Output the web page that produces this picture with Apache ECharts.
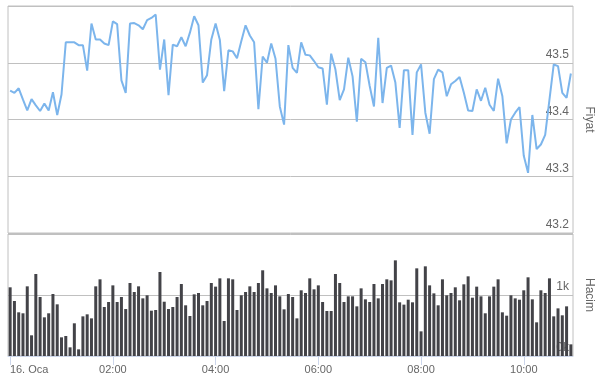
<!DOCTYPE html>
<html>
<head>
<meta charset="utf-8">
<script src="https://cdn.jsdelivr.net/npm/echarts@6/dist/echarts.min.js"></script>
<style>
html,body{margin:0;padding:0;background:#fff;}
#c{width:595px;height:379px;}
</style>
</head>
<body>
<div id="c"></div>
<script>
var times = [
'00:00','00:05','00:10','00:15','00:20','00:25','00:30','00:35','00:40','00:45','00:50','00:55',
'01:00','01:05','01:10','01:15','01:20','01:25','01:30','01:35','01:40','01:45','01:50','01:55',
'02:00','02:05','02:10','02:15','02:20','02:25','02:30','02:35','02:40','02:45','02:50','02:55',
'03:00','03:05','03:10','03:15','03:20','03:25','03:30','03:35','03:40','03:45','03:50','03:55',
'04:00','04:05','04:10','04:15','04:20','04:25','04:30','04:35','04:40','04:45','04:50','04:55',
'05:00','05:05','05:10','05:15','05:20','05:25','05:30','05:35','05:40','05:45','05:50','05:55',
'06:00','06:05','06:10','06:15','06:20','06:25','06:30','06:35','06:40','06:45','06:50','06:55',
'07:00','07:05','07:10','07:15','07:20','07:25','07:30','07:35','07:40','07:45','07:50','07:55',
'08:00','08:05','08:10','08:15','08:20','08:25','08:30','08:35','08:40','08:45','08:50','08:55',
'09:00','09:05','09:10','09:15','09:20','09:25','09:30','09:35','09:40','09:45','09:50','09:55',
'10:00','10:05','10:10','10:15','10:20','10:25','10:30','10:35','10:40','10:45','10:50','10:55'
];
var firstLabel = '16. Oca';

var price = [
43.451,43.447,43.455,43.435,43.416,43.436,43.425,43.415,43.428,43.416,43.448,43.408,
43.444,43.536,43.536,43.536,43.531,43.531,43.486,43.569,43.541,43.541,43.534,43.531,
43.573,43.568,43.469,43.447,43.569,43.570,43.566,43.559,43.575,43.579,43.585,43.488,
43.541,43.443,43.532,43.529,43.545,43.529,43.553,43.582,43.566,43.465,43.478,43.541,
43.569,43.540,43.450,43.522,43.520,43.508,43.538,43.566,43.548,43.536,43.418,43.511,
43.500,43.534,43.507,43.423,43.391,43.531,43.491,43.482,43.536,43.514,43.513,43.503,
43.492,43.490,43.426,43.516,43.488,43.434,43.453,43.509,43.476,43.396,43.507,43.501,
43.459,43.423,43.544,43.429,43.491,43.495,43.465,43.385,43.487,43.487,43.373,43.483,
43.497,43.412,43.375,43.471,43.488,43.483,43.441,43.462,43.468,43.475,43.447,43.416,
43.415,43.453,43.433,43.456,43.426,43.415,43.472,43.441,43.358,43.400,43.412,43.422,
43.336,43.306,43.408,43.348,43.356,43.373,43.435,43.497,43.494,43.447,43.438,43.481
];

var volume = [
1126,902,716,700,1142,339,1344,967,634,700,1016,847,
306,328,142,536,109,650,683,617,1142,1257,803,885,
1158,885,967,770,1197,1049,1142,945,995,743,754,1377,
890,770,803,967,1180,831,656,1011,1033,831,902,1197,
1137,1273,574,1273,1257,754,995,1049,1142,1049,1197,1405,
1109,1033,1158,978,765,1016,967,617,1077,1033,1273,1093,
1158,885,738,738,1344,1197,885,978,978,814,1109,929,
885,1180,945,1180,1257,1240,1568,880,842,923,880,1437,
404,1470,1158,1027,831,1257,995,1033,1126,913,1175,1306,
956,1137,978,700,978,1137,1257,716,661,995,945,923,
1077,1290,929,552,1077,1033,1273,650,781,667,814,191
];

var priceTicks = [43.2, 43.3, 43.4, 43.5, 43.6];
var volumeTicks = [0, 1000, 2000];

var font = 'Liberation Sans, Arial, sans-serif';
var chart = echarts.init(document.getElementById('c'), null, {renderer: 'canvas'});
var showEvery = function (idx) { return idx % 24 === 0; };

chart.setOption({
  animation: false,
  backgroundColor: '#ffffff',
  grid: [
    {left: 8, right: 22, top: 6, height: 227, show: true, borderColor: '#c0c0c0', borderWidth: 1, backgroundColor: 'transparent', outerBoundsMode: 'none', containLabel: false},
    {left: 8, right: 22, top: 234, height: 122, show: true, borderColor: '#c0c0c0', borderWidth: 1, backgroundColor: 'transparent', outerBoundsMode: 'none', containLabel: false}
  ],
  xAxis: [
    {type: 'category', gridIndex: 0, data: times, boundaryGap: true,
     axisLine: {show: false}, axisTick: {show: false}, axisLabel: {show: false}, splitLine: {show: false}},
    {type: 'category', gridIndex: 1, data: times, boundaryGap: true,
     axisLine: {show: true, lineStyle: {color: '#ccd6eb', width: 1}},
     axisTick: {show: true, alignWithLabel: true, interval: showEvery, length: 9, lineStyle: {color: '#ccd6eb'}},
     axisLabel: {show: true, interval: showEvery, margin: 8, color: '#666666', fontSize: 11, fontFamily: font,
       formatter: function (v, idx) { return idx === 0 ? '{first|' + firstLabel + '}' : v; },
       rich: {first: {padding: [0, 0, 0, 38], color: '#666666', fontSize: 11, fontFamily: font}}},
     splitLine: {show: false}}
  ],
  yAxis: [
    {type: 'value', gridIndex: 0, position: 'right', min: priceTicks[0], max: priceTicks[priceTicks.length - 1], interval: 0.1,
     name: 'Fiyat', nameLocation: 'middle', nameGap: 10, nameRotate: -90,
     nameTextStyle: {color: '#666666', fontSize: 12, fontFamily: font},
     axisLine: {show: false}, axisTick: {show: false},
     axisLabel: {inside: true, margin: 4, color: '#666666', fontSize: 12, fontFamily: font,
       verticalAlign: 'bottom', padding: [0, 0, 2, 0], showMaxLabel: false,
       formatter: function (v) { return v.toFixed(1); }},
     splitLine: {show: true, lineStyle: {color: '#c0c0c0', width: 1}}},
    {type: 'value', gridIndex: 1, position: 'right', min: volumeTicks[0], max: volumeTicks[volumeTicks.length - 1], interval: 1000,
     name: 'Hacim', nameLocation: 'middle', nameGap: 10, nameRotate: -90,
     nameTextStyle: {color: '#666666', fontSize: 12, fontFamily: font},
     axisLine: {show: false}, axisTick: {show: false},
     axisLabel: {inside: true, margin: 4, color: '#666666', fontSize: 12, fontFamily: font,
       verticalAlign: 'bottom', padding: [0, 0, 2, 0], showMaxLabel: false,
       formatter: function (v) { return (v / 1000) + 'k'; }},
     splitLine: {show: true, lineStyle: {color: '#c0c0c0', width: 1}}}
  ],
  series: [
    {type: 'line', name: 'Fiyat', xAxisIndex: 0, yAxisIndex: 0, data: price,
     showSymbol: false, symbol: 'none', lineStyle: {color: '#7cb5ec', width: 2}, z: 3},
    {type: 'bar', name: 'Hacim', xAxisIndex: 1, yAxisIndex: 1, data: volume,
     barWidth: 3, itemStyle: {color: '#434348'}, z: 3}
  ]
});
</script>
</body>
</html>
